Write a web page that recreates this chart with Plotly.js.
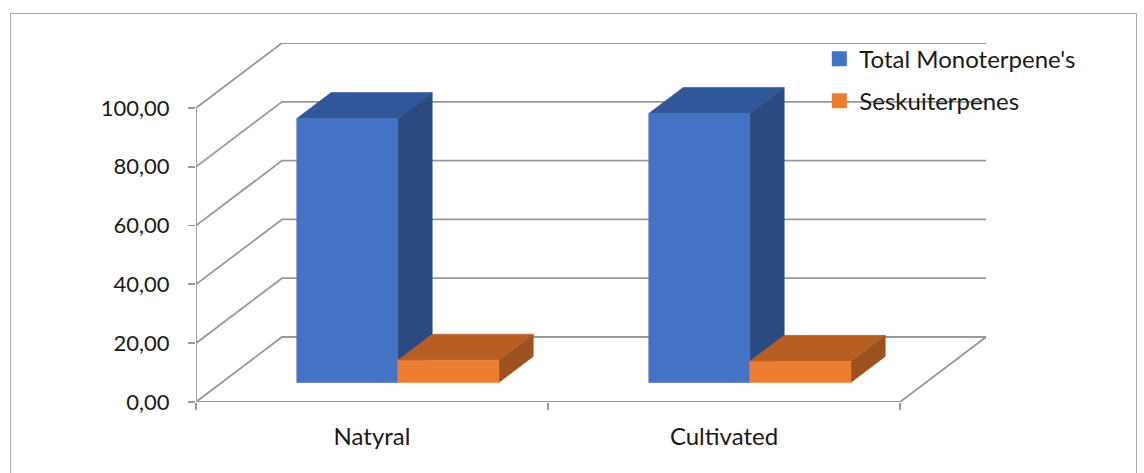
<!DOCTYPE html>
<html>
<head>
<meta charset="utf-8">
<script src="https://cdn.plot.ly/plotly-3.0.1.min.js"></script>
<style>
  html, body { margin: 0; padding: 0; background: #ffffff; overflow: hidden; }
  #chart { width: 1144px; height: 473px; position: absolute; left: 0; top: 0; }
  #frame {
    position: absolute; left: 10px; top: 13px; width: 1127px; height: 480px;
    border: 1.5px solid #a9a9a9; box-sizing: border-box; pointer-events: none;
  }
</style>
</head>
<body>
<div id="chart"></div>
<div id="frame"></div>
<script>
// ---- data ----
const categories = ['Natyral', 'Cultivated'];
const seriesNames = ["Total Monoterpene's", 'Seskuiterpenes'];
const monoterpenes = [89.8, 91.5];
const sesquiterpenes = [7.6, 7.2];
const yTicks = [0, 20, 40, 60, 80, 100];

// ---- oblique 3-D geometry (axis units) ----
const DX = 0.2443;        // depth offset along x (category units)
const DY = 22.1;          // depth offset along y (value units)
const FRONT = 0.30;       // bar front face depth fraction
const BACK = 0.70;        // bar back face depth fraction
const BAR_W = 0.287;      // bar width (category units)
const GRID = '#999999';
const GRID_W = 1.8;

const palettes = [
  { front: '#4472C4', top: '#32569A', side: '#2B4A80' },
  { front: '#ED7D31', top: '#B75E24', side: '#9C521E' }
];
const series = [monoterpenes, sesquiterpenes];

const traces = [];
const xMin = -0.5, xMax = categories.length - 0.5;

function line(xs, ys) {
  traces.push({
    type: 'scatter', mode: 'lines', x: xs, y: ys,
    line: { color: GRID, width: GRID_W }, showlegend: false, hoverinfo: 'skip'
  });
}

// back wall and left wall gridlines
yTicks.forEach(v => {
  line([xMin, xMin + DX, xMax + DX], [v, v + DY, v + DY]);
});
// front axis line and floor edges
line([xMin, xMin], [0, yTicks[yTicks.length - 1]]);
line([xMin, xMax, xMax + DX], [0, 0, DY]);

function face(xs, ys, color) {
  traces.push({
    type: 'scatter', mode: 'lines', x: xs, y: ys, fill: 'toself',
    fillcolor: color, line: { color: color, width: 0.6 },
    showlegend: false, hoverinfo: 'skip'
  });
}

// 3-D columns: for each category, left series then right series
categories.forEach((cat, ci) => {
  series.forEach((vals, si) => {
    const v = vals[ci];
    const x0 = ci - BAR_W + si * BAR_W;
    const x1 = x0 + BAR_W;
    const fx0 = x0 + FRONT * DX, fx1 = x1 + FRONT * DX, fy = FRONT * DY;
    const bx0 = x0 + BACK * DX, bx1 = x1 + BACK * DX, by = BACK * DY;
    const p = palettes[si];
    // right side
    face([fx1, bx1, bx1, fx1, fx1], [fy, by, v + by, v + fy, fy], p.side);
    // top
    face([fx0, fx1, bx1, bx0, fx0], [v + fy, v + fy, v + by, v + by, v + fy], p.top);
    // front
    face([fx0, fx1, fx1, fx0, fx0], [fy, fy, v + fy, v + fy, fy], p.front);
  });
});

// legend entries
seriesNames.forEach((name, si) => {
  traces.push({
    type: 'scatter', mode: 'markers', x: [null], y: [null], name: name,
    legendgroup: 'g' + si,
    marker: { symbol: 'square', size: 15, color: palettes[si].front },
    hoverinfo: 'skip'
  });
});

const FONT = 'Lato, "Open Sans", sans-serif';

const layout = {
  width: 1144, height: 473,
  margin: { l: 196, r: 158, t: 43, b: 71, pad: 0 },
  paper_bgcolor: 'rgba(0,0,0,0)', plot_bgcolor: 'rgba(0,0,0,0)',
  separators: ',.',
  hovermode: false,
  font: { family: FONT, size: 22, color: '#1a1a1a' },
  xaxis: {
    range: [xMin, xMax + DX],
    tickvals: categories.map((c, i) => i), ticktext: categories,
    tickfont: { family: FONT, size: 24, color: '#1a1a1a' },
    ticks: '', showgrid: false, zeroline: false, showline: false,
    ticklabelstandoff: 18,
    minor: {
      tickvals: [-0.5, 0.5, 1.5], ticks: 'outside', ticklen: 7,
      tickcolor: GRID, tickwidth: GRID_W, showgrid: false
    },
    fixedrange: true
  },
  yaxis: {
    range: [0, 122.1],
    tickvals: yTicks, tickformat: '.2f',
    tickfont: { family: FONT, size: 22, color: '#1a1a1a' },
    ticks: 'outside', ticklen: 7, tickcolor: GRID, tickwidth: GRID_W,
    ticklabelstandoff: 14,
    showgrid: false, zeroline: false, showline: false,
    fixedrange: true
  },
  showlegend: true,
  legend: {
    x: 0.789, xanchor: 'left', y: 1.018, yanchor: 'top',
    bgcolor: 'rgba(0,0,0,0)', borderwidth: 0,
    traceorder: 'grouped', tracegroupgap: 8,
    font: { family: FONT, size: 24, color: '#1a1a1a' }
  }
};

Plotly.newPlot('chart', traces, layout, { staticPlot: true, displayModeBar: false });
</script>
</body>
</html>
